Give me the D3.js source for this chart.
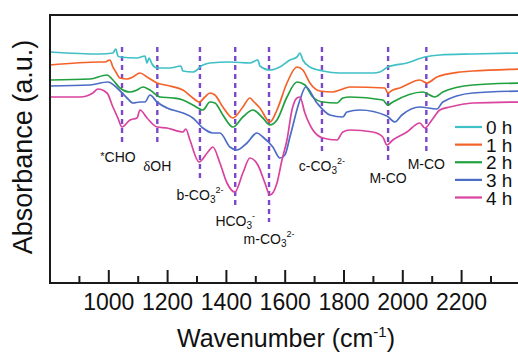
<!DOCTYPE html>
<html>
<head>
<meta charset="utf-8">
<script src="https://cdn.jsdelivr.net/npm/d3@7/dist/d3.min.js"></script>
<style>
  body { margin: 0; background: #fff; }
  svg { display: block; font-family: Arial, "Liberation Sans", Helvetica, sans-serif; }
</style>
</head>
<body>
<div id="chart"></div>
<script>
// series (wavenumber, absorbance a.u.)
const series = ["0 h", "1 h", "2 h", "3 h", "4 h"];
const h0 = [[800,231],[970,229],[1014,230],[1024,234],[1031,227],[1038,226],[1096,225],[1123,227],[1130,220],[1137,225],[1147,219],[1164,215],[1208,215],[1245,217],[1252,212],[1286,211],[1320,218],[1344,220],[1412,221],[1480,220],[1507,223],[1514,217],[1548,213],[1582,216],[1616,223],[1640,226],[1650,230],[1660,223],[1684,216],[1728,212],[1786,210],[1898,210],[1922,211],[1949,216],[2014,220],[2075,226],[2126,228],[2238,229],[2400,230]];
const h1 = [[800,218],[970,221],[987,221],[1004,223],[1014,216],[1024,211],[1038,205],[1062,204],[1082,206],[1106,210],[1130,206],[1164,200],[1208,197],[1252,193],[1286,185],[1307,181],[1327,186],[1344,190],[1361,188],[1388,176],[1422,165],[1456,176],[1480,185],[1494,181],[1514,175],[1548,161],[1572,173],[1606,200],[1640,216],[1660,213],[1684,200],[1718,192],[1762,191],[1786,193],[1820,196],[1939,195],[1949,190],[1966,193],[1990,195],[2058,203],[2082,200],[2116,206],[2194,211],[2238,212],[2400,214]];
const h2 = [[800,203],[936,204],[994,208],[1014,203],[1038,195],[1072,191],[1096,193],[1116,196],[1140,193],[1174,186],[1218,185],[1252,183],[1286,178],[1320,173],[1344,181],[1361,180],[1388,168],[1422,156],[1456,166],[1490,173],[1524,165],[1548,158],[1572,163],[1606,186],[1640,201],[1667,198],[1694,186],[1728,181],[1776,180],[1796,185],[1820,186],[1932,183],[1949,178],[1966,181],[2068,191],[2109,186],[2136,191],[2238,198],[2400,200]];
const h3 = [[800,197],[936,198],[997,201],[1028,195],[1062,185],[1082,180],[1106,181],[1123,181],[1140,188],[1164,181],[1198,175],[1252,170],[1286,165],[1320,155],[1354,150],[1378,150],[1412,136],[1436,133],[1470,140],[1504,150],[1524,146],[1558,136],[1582,125],[1599,128],[1616,146],[1650,183],[1670,196],[1708,180],[1752,168],[1796,166],[1810,171],[1854,173],[1946,167],[1973,161],[1997,168],[2058,176],[2116,174],[2136,181],[2238,190],[2400,192]];
const h4 = [[800,186],[902,186],[946,190],[963,194],[994,190],[1014,176],[1031,165],[1045,156],[1072,163],[1096,165],[1106,173],[1130,165],[1164,156],[1198,155],[1252,151],[1262,154],[1276,143],[1307,121],[1337,131],[1354,136],[1378,120],[1402,100],[1429,91],[1456,110],[1480,125],[1507,118],[1531,100],[1548,88],[1572,100],[1589,123],[1606,143],[1623,173],[1640,185],[1650,186],[1667,170],[1694,153],[1728,145],[1776,143],[1796,151],[1820,153],[1898,151],[1932,146],[1946,138],[1966,143],[2014,151],[2058,160],[2075,155],[2099,163],[2126,173],[2160,176],[2238,180],[2400,181]];
const allSeries = [h0, h1, h2, h3, h4];

// band assignments
const bandWn = [1045, 1165, 1310, 1430, 1545, 1725, 1950, 2080];
const bandLabels = ["*CHO", "δOH", "b-CO_3^2-", "HCO_3^-", "m-CO_3^2-", "c-CO_3^2-", "M-CO", "M-CO"];

const xTicks = [1000, 1200, 1400, 1600, 1800, 2000, 2200];

const colors = ["#3fc0c6", "#f4622a", "#21a040", "#4c6cc6", "#d9429e"];

const W = 518, H = 353;
const margin = {top: 15, left: 50, bottom: 70};
const plotBottom = H - margin.bottom;

const x = d3.scaleLinear().domain([800, 2400]).range([margin.left, 520.4]);
const y = d3.scaleLinear().domain([0, 268]).range([plotBottom, margin.top]);

const svg = d3.select("#chart").append("svg")
    .attr("width", W)
    .attr("height", H);

// dashed band markers (layout: where each dash line stops)
const bandBottom = [142, 142, 180, 205, 222, 152, 163, 153];
svg.append("g").selectAll("line")
    .data(bandWn)
    .enter().append("line")
    .attr("x1", d => x(d)).attr("x2", d => x(d))
    .attr("y1", 47)
    .attr("y2", (d, i) => bandBottom[i])
    .attr("stroke", "#7a48c8")
    .attr("stroke-width", 2.4)
    .attr("stroke-dasharray", "5,4");

// spectra
const line = d3.line()
    .x(d => x(d[0]))
    .y(d => y(d[1]))
    .curve(d3.curveMonotoneX);

svg.append("g").selectAll("path")
    .data(allSeries)
    .enter().append("path")
    .attr("d", line)
    .attr("fill", "none")
    .attr("stroke", (d, i) => colors[i])
    .attr("stroke-width", 1.7)
    .attr("stroke-linejoin", "round");

// band labels with sub/superscripts
const labelY = [162, 171, 200, 226, 244, 171, 183, 169];
const labelDx = [-4, 0, 0, 0, 0, 0, 0, 0];
bandLabels.forEach(function(lab, i) {
    const t = svg.append("text")
        .attr("x", x(bandWn[i]) + labelDx[i])
        .attr("y", labelY[i])
        .attr("text-anchor", "middle")
        .attr("font-size", 14)
        .attr("fill", "#111");
    const m = lab.match(/^([^_^]*)(?:_([^\^]*))?(?:\^(.*))?$/);
    let main = m[1];
    if (main.startsWith("*")) {
        t.append("tspan").attr("font-size", 11).attr("dy", -2).text("*");
        t.append("tspan").attr("dy", 2).text(main.slice(1));
    } else if (main.startsWith("δ")) {
        t.append("tspan").attr("font-family", "'Liberation Serif', 'DejaVu Serif', serif").attr("font-size", 15).text("δ");
        t.append("tspan").text(main.slice(1));
    } else {
        t.append("tspan").text(main);
    }
    if (m[2]) t.append("tspan").attr("font-size", 10).attr("dy", 3).text(m[2]);
    if (m[3]) t.append("tspan").attr("font-size", 9).attr("dy", m[2] ? -10 : -7).text(m[3]);
});

// frame
svg.append("rect")
    .attr("x", margin.left).attr("y", margin.top)
    .attr("width", x(2400) - margin.left)
    .attr("height", plotBottom - margin.top)
    .attr("fill", "none")
    .attr("stroke", "#1a1a1a")
    .attr("stroke-width", 2);

// x axis: inward ticks
const ax = svg.append("g");
ax.selectAll("line.major")
    .data(xTicks)
    .enter().append("line")
    .attr("x1", d => x(d)).attr("x2", d => x(d))
    .attr("y1", plotBottom).attr("y2", plotBottom - 13)
    .attr("stroke", "#1a1a1a").attr("stroke-width", 2);
ax.selectAll("line.minor")
    .data(d3.range(900, 2400, 200))
    .enter().append("line")
    .attr("x1", d => x(d)).attr("x2", d => x(d))
    .attr("y1", plotBottom).attr("y2", plotBottom - 7)
    .attr("stroke", "#1a1a1a").attr("stroke-width", 2);
ax.selectAll("text")
    .data(xTicks)
    .enter().append("text")
    .attr("x", d => x(d))
    .attr("y", 310)
    .attr("text-anchor", "middle")
    .attr("font-size", 23)
    .attr("fill", "#111")
    .text(d => d);

// axis titles
const xt = svg.append("text")
    .attr("x", 286)
    .attr("y", 347)
    .attr("text-anchor", "middle")
    .attr("font-size", 25)
    .attr("fill", "#111");
xt.append("tspan").text("Wavenumber (cm");
xt.append("tspan").attr("font-size", 15).attr("dy", -10).text("-1");
xt.append("tspan").attr("dy", 10).text(")");

svg.append("text")
    .attr("transform", "translate(32,147) rotate(-90)")
    .attr("text-anchor", "middle")
    .attr("font-size", 27)
    .attr("fill", "#111")
    .text("Absorbance (a.u.)");

// legend
const legY = d3.scaleLinear().domain([0, 4]).range([127, 197.5]);
const leg = svg.append("g").selectAll("g")
    .data(series)
    .enter().append("g")
    .attr("transform", (d, i) => "translate(455," + legY(i) + ")");
leg.append("line")
    .attr("x1", 0).attr("x2", 27)
    .attr("stroke", (d, i) => colors[i])
    .attr("stroke-width", 2.2);
leg.append("text")
    .attr("x", 31).attr("y", 7)
    .attr("font-size", 19)
    .attr("fill", "#111")
    .text(d => d);
</script>
</body>
</html>
